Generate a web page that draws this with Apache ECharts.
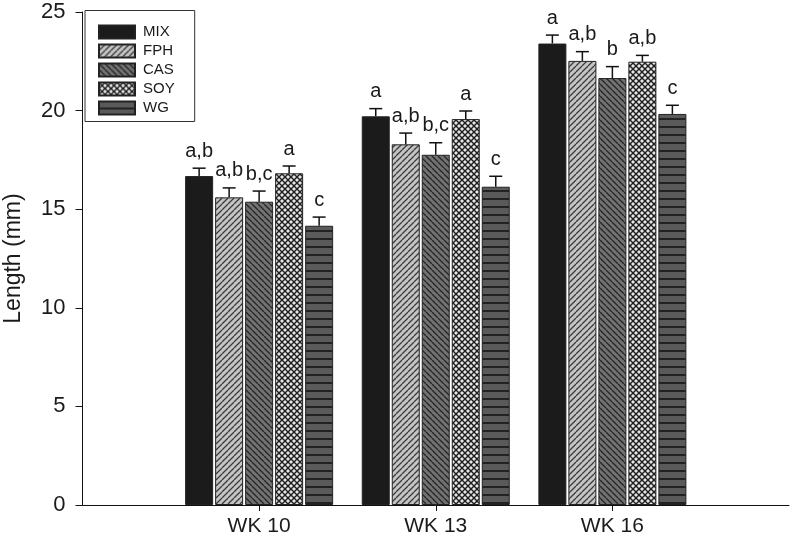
<!DOCTYPE html>
<html>
<head>
<meta charset="utf-8">
<script src="https://cdn.jsdelivr.net/npm/echarts@6/dist/echarts.min.js"></script>
<style>html,body{margin:0;padding:0;background:#fff;}#c{width:792px;height:548px;}</style>
</head>
<body>
<div id="c"></div>
<script>
// ---- data ----
const categories = ['', 'WK 10', 'WK 13', 'WK 16', ''];
const seriesNames = ['MIX', 'FPH', 'CAS', 'SOY', 'WG'];
const MIX = [16.68, 19.71, 23.40];
const FPH = [15.60, 18.29, 22.52];
const CAS = [15.38, 17.76, 21.65];
const SOY = [16.82, 19.57, 22.48];
const WG  = [14.16, 16.14, 19.83];
const MIX_err = [0.40, 0.39, 0.43];
const FPH_err = [0.48, 0.57, 0.47];
const CAS_err = [0.54, 0.61, 0.58];
const SOY_err = [0.37, 0.41, 0.32];
const WG_err  = [0.44, 0.53, 0.44];
const MIX_sig = ['a,b', 'a', 'a'];
const FPH_sig = ['a,b', 'a,b', 'a,b'];
const CAS_sig = ['b,c', 'b,c', 'b'];
const SOY_sig = ['a', 'a', 'a,b'];
const WG_sig  = ['c', 'c', 'c'];
const yTicks = [0, 5, 10, 15, 20, 25];

const means = [MIX, FPH, CAS, SOY, WG];
const errs = [MIX_err, FPH_err, CAS_err, SOY_err, WG_err];
const sigs = [MIX_sig, FPH_sig, CAS_sig, SOY_sig, WG_sig];

// ---- patterns ----
function makeTile(w, h, draw) {
  const c = document.createElement('canvas');
  c.width = w; c.height = h;
  const ctx = c.getContext('2d');
  draw(ctx, w, h);
  return c;
}
const solid = '#1b1b1b';
const fphTile = makeTile(6, 6, (ctx, w, h) => {
  ctx.fillStyle = '#c4c4c4'; ctx.fillRect(0, 0, w, h);
  ctx.strokeStyle = '#3c3c3c'; ctx.lineWidth = 1.3;
  for (let o = -w; o <= w; o += w) {
    ctx.beginPath(); ctx.moveTo(o, h); ctx.lineTo(o + w, 0); ctx.stroke();
  }
});
const casTile = makeTile(6, 6, (ctx, w, h) => {
  ctx.fillStyle = '#727272'; ctx.fillRect(0, 0, w, h);
  ctx.strokeStyle = '#262626'; ctx.lineWidth = 1.3;
  for (let o = -w; o <= w; o += w) {
    ctx.beginPath(); ctx.moveTo(o, 0); ctx.lineTo(o + w, h); ctx.stroke();
  }
});
const soyTile = makeTile(6, 6, (ctx, w, h) => {
  ctx.fillStyle = '#e6e6e6'; ctx.fillRect(0, 0, w, h);
  ctx.strokeStyle = '#1e1e1e'; ctx.lineWidth = 1.4;
  for (let o = -w; o <= w; o += w) {
    ctx.beginPath(); ctx.moveTo(o, h); ctx.lineTo(o + w, 0); ctx.stroke();
    ctx.beginPath(); ctx.moveTo(o, 0); ctx.lineTo(o + w, h); ctx.stroke();
  }
});
const wgTile = makeTile(8, 8, (ctx, w, h) => {
  ctx.fillStyle = '#5a5a5a'; ctx.fillRect(0, 0, w, h);
  ctx.fillStyle = '#222222'; ctx.fillRect(0, 6, w, 2);
});
const fills = [
  solid,
  { image: fphTile, repeat: 'repeat' },
  { image: casTile, repeat: 'repeat' },
  { image: soyTile, repeat: 'repeat' },
  { image: wgTile, repeat: 'repeat' }
];

const FONT = '"Liberation Sans", Arial, Helvetica, sans-serif';
const BAR_W = 28;
const BAR_GAP = 2;
const PITCH = BAR_W + BAR_GAP;

const barSeries = seriesNames.map((name, i) => ({
  name: name,
  type: 'bar',
  barWidth: BAR_W,
  barGap: (BAR_GAP / BAR_W * 100) + '%',
  data: ['-'].concat(means[i], ['-']),
  itemStyle: { color: fills[i], borderColor: '#222', borderWidth: 1 },
  emphasis: { disabled: true },
  z: 2
}));

// error bars + significance letters
const errData = [];
seriesNames.forEach((name, i) => {
  means[i].forEach((v, j) => {
    errData.push([j + 1, v, v + errs[i][j], i, sigs[i][j]]);
  });
});

const errSeries = {
  type: 'custom',
  silent: true,
  z: 5,
  data: errData,
  encode: { x: 0, y: [1, 2] },
  renderItem: function (params, api) {
    const cat = api.value(0);
    const si = api.value(3);
    const item = errData[params.dataIndex];
    const base = api.coord([cat, api.value(1)]);
    const top = api.coord([cat, api.value(2)]);
    const cx = base[0] + (si - 2) * PITCH;
    const half = 6.5;
    return {
      type: 'group',
      children: [
        { type: 'line', shape: { x1: cx, y1: base[1], x2: cx, y2: top[1] }, style: { stroke: '#111', lineWidth: 1.5 } },
        { type: 'line', shape: { x1: cx - half, y1: top[1], x2: cx + half, y2: top[1] }, style: { stroke: '#111', lineWidth: 1.5 } },
        { type: 'text', style: { text: item[4], x: cx, y: top[1] - 7, align: 'center', verticalAlign: 'bottom', font: '20px ' + FONT, fill: '#1a1a1a' } }
      ]
    };
  }
};

const chart = echarts.init(document.getElementById('c'), null, { renderer: 'canvas' });
chart.setOption({
  animation: false,
  backgroundColor: '#fff',
  grid: { left: 82.5, right: 3, top: 12, bottom: 43, containLabel: false, outerBoundsMode: 'none' },
  legend: {
    data: seriesNames,
    orient: 'vertical',
    left: 85,
    top: 10.5,
    itemWidth: 36,
    itemHeight: 13,
    itemGap: 4,
    padding: [14, 20, 6, 13],
    borderColor: '#333',
    borderWidth: 1,
    backgroundColor: '#fff',
    selectedMode: false,
    textStyle: { fontFamily: FONT, fontSize: 15, color: '#1a1a1a', padding: [0, 0, 0, 3] },
    icon: 'rect'
  },
  xAxis: {
    type: 'category',
    data: categories,
    boundaryGap: false,
    axisLine: { lineStyle: { color: '#111', width: 1 } },
    axisTick: { show: true, length: 6, interval: function (idx) { return idx >= 1 && idx <= 3; }, lineStyle: { color: '#111' } },
    axisLabel: { fontFamily: FONT, fontSize: 21, color: '#1a1a1a', margin: 11, interval: 0 },
    splitLine: { show: false }
  },
  yAxis: {
    type: 'value',
    min: yTicks[0],
    max: yTicks[yTicks.length - 1],
    interval: yTicks[1] - yTicks[0],
    name: 'Length (mm)',
    nameLocation: 'middle',
    nameGap: 57,
    nameTextStyle: { fontFamily: FONT, fontSize: 23, color: '#1a1a1a' },
    axisLine: { show: true, lineStyle: { color: '#111', width: 1 } },
    axisTick: { show: true, length: 7, lineStyle: { color: '#111' } },
    axisLabel: { fontFamily: FONT, fontSize: 22, color: '#1a1a1a', margin: 17 },
    splitLine: { show: false }
  },
  series: barSeries.concat([errSeries])
});
</script>
</body>
</html>
